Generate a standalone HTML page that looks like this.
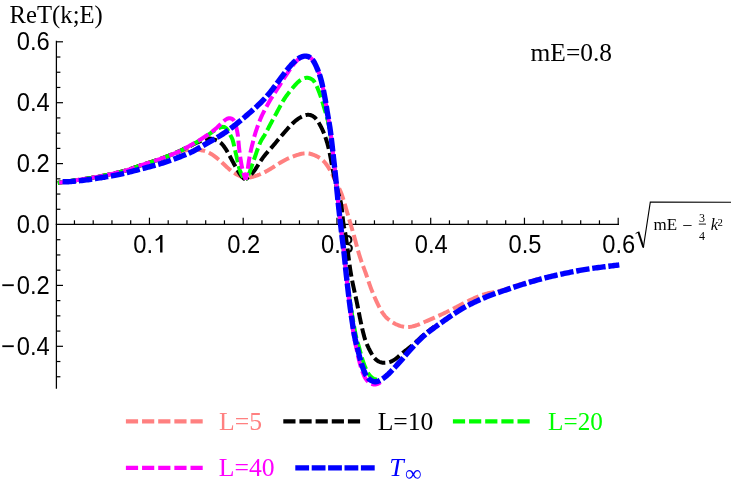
<!DOCTYPE html>
<html><head><meta charset="utf-8"><title>ReT(k;E)</title>
<style>
html,body{margin:0;padding:0;background:#fff;}
body{width:731px;height:495px;overflow:hidden;font-family:"Liberation Sans",sans-serif;}
svg{display:block;will-change:transform;}
</style></head><body>
<svg width="731" height="495" viewBox="0 0 731 495">
<rect width="731" height="495" fill="#fff"/>
<g stroke="#000" stroke-width="1.25" fill="none">
<line x1="55.75" y1="224.3" x2="619.0" y2="224.3"/>
<line x1="56.40" y1="40.8" x2="56.40" y2="388.8"/>
<line x1="74.45" y1="224.3" x2="74.45" y2="220.30" stroke-width="1.2"/>
<line x1="93.20" y1="224.3" x2="93.20" y2="220.30" stroke-width="1.2"/>
<line x1="111.95" y1="224.3" x2="111.95" y2="220.30" stroke-width="1.2"/>
<line x1="130.70" y1="224.3" x2="130.70" y2="220.30" stroke-width="1.2"/>
<line x1="149.45" y1="224.3" x2="149.45" y2="217.70" stroke-width="1.2"/>
<line x1="168.20" y1="224.3" x2="168.20" y2="220.30" stroke-width="1.2"/>
<line x1="186.95" y1="224.3" x2="186.95" y2="220.30" stroke-width="1.2"/>
<line x1="205.70" y1="224.3" x2="205.70" y2="220.30" stroke-width="1.2"/>
<line x1="224.45" y1="224.3" x2="224.45" y2="220.30" stroke-width="1.2"/>
<line x1="243.20" y1="224.3" x2="243.20" y2="217.70" stroke-width="1.2"/>
<line x1="261.95" y1="224.3" x2="261.95" y2="220.30" stroke-width="1.2"/>
<line x1="280.70" y1="224.3" x2="280.70" y2="220.30" stroke-width="1.2"/>
<line x1="299.45" y1="224.3" x2="299.45" y2="220.30" stroke-width="1.2"/>
<line x1="318.20" y1="224.3" x2="318.20" y2="220.30" stroke-width="1.2"/>
<line x1="336.95" y1="224.3" x2="336.95" y2="217.70" stroke-width="1.2"/>
<line x1="355.70" y1="224.3" x2="355.70" y2="220.30" stroke-width="1.2"/>
<line x1="374.45" y1="224.3" x2="374.45" y2="220.30" stroke-width="1.2"/>
<line x1="393.20" y1="224.3" x2="393.20" y2="220.30" stroke-width="1.2"/>
<line x1="411.95" y1="224.3" x2="411.95" y2="220.30" stroke-width="1.2"/>
<line x1="430.70" y1="224.3" x2="430.70" y2="217.70" stroke-width="1.2"/>
<line x1="449.45" y1="224.3" x2="449.45" y2="220.30" stroke-width="1.2"/>
<line x1="468.20" y1="224.3" x2="468.20" y2="220.30" stroke-width="1.2"/>
<line x1="486.95" y1="224.3" x2="486.95" y2="220.30" stroke-width="1.2"/>
<line x1="505.70" y1="224.3" x2="505.70" y2="220.30" stroke-width="1.2"/>
<line x1="524.45" y1="224.3" x2="524.45" y2="217.70" stroke-width="1.2"/>
<line x1="543.20" y1="224.3" x2="543.20" y2="220.30" stroke-width="1.2"/>
<line x1="561.95" y1="224.3" x2="561.95" y2="220.30" stroke-width="1.2"/>
<line x1="580.70" y1="224.3" x2="580.70" y2="220.30" stroke-width="1.2"/>
<line x1="599.45" y1="224.3" x2="599.45" y2="220.30" stroke-width="1.2"/>
<line x1="618.20" y1="224.3" x2="618.20" y2="217.70" stroke-width="1.2"/>
<line x1="56.40" y1="376.75" x2="60.40" y2="376.75" stroke-width="1.2"/>
<line x1="56.40" y1="361.52" x2="60.40" y2="361.52" stroke-width="1.2"/>
<line x1="56.40" y1="346.30" x2="63.00" y2="346.30" stroke-width="1.2"/>
<line x1="56.40" y1="331.08" x2="60.40" y2="331.08" stroke-width="1.2"/>
<line x1="56.40" y1="315.85" x2="60.40" y2="315.85" stroke-width="1.2"/>
<line x1="56.40" y1="300.62" x2="60.40" y2="300.62" stroke-width="1.2"/>
<line x1="56.40" y1="285.40" x2="63.00" y2="285.40" stroke-width="1.2"/>
<line x1="56.40" y1="270.18" x2="60.40" y2="270.18" stroke-width="1.2"/>
<line x1="56.40" y1="254.95" x2="60.40" y2="254.95" stroke-width="1.2"/>
<line x1="56.40" y1="239.72" x2="60.40" y2="239.72" stroke-width="1.2"/>
<line x1="56.40" y1="209.28" x2="60.40" y2="209.28" stroke-width="1.2"/>
<line x1="56.40" y1="194.05" x2="60.40" y2="194.05" stroke-width="1.2"/>
<line x1="56.40" y1="178.82" x2="60.40" y2="178.82" stroke-width="1.2"/>
<line x1="56.40" y1="163.60" x2="63.00" y2="163.60" stroke-width="1.2"/>
<line x1="56.40" y1="148.38" x2="60.40" y2="148.38" stroke-width="1.2"/>
<line x1="56.40" y1="133.15" x2="60.40" y2="133.15" stroke-width="1.2"/>
<line x1="56.40" y1="117.92" x2="60.40" y2="117.92" stroke-width="1.2"/>
<line x1="56.40" y1="102.70" x2="63.00" y2="102.70" stroke-width="1.2"/>
<line x1="56.40" y1="87.47" x2="60.40" y2="87.47" stroke-width="1.2"/>
<line x1="56.40" y1="72.25" x2="60.40" y2="72.25" stroke-width="1.2"/>
<line x1="56.40" y1="57.02" x2="60.40" y2="57.02" stroke-width="1.2"/>
<line x1="56.40" y1="41.80" x2="63.00" y2="41.80" stroke-width="1.2"/>
</g>
<g font-family="'Liberation Sans', sans-serif" font-size="25.8px" fill="#000" transform="scale(0.92,1)">
<text x="144.78" y="252.6">0.</text>
<text x="265.00" y="252.6" text-anchor="middle">0.2</text>
<text x="366.90" y="252.6" text-anchor="middle">0.3</text>
<text x="468.80" y="252.6" text-anchor="middle">0.4</text>
<text x="570.71" y="252.6" text-anchor="middle">0.5</text>
<text x="672.61" y="252.6" text-anchor="middle">0.6</text>
<text x="54.02" y="50.50" text-anchor="end">0.6</text>
<text x="54.02" y="111.40" text-anchor="end">0.4</text>
<text x="54.02" y="172.30" text-anchor="end">0.2</text>
<text x="54.02" y="233.20" text-anchor="end">0.0</text>
<text x="0.98" y="294.10">−</text>
<text x="54.02" y="294.10" text-anchor="end">0.2</text>
<text x="0.98" y="355.00">−</text>
<text x="54.02" y="355.00" text-anchor="end">0.4</text>
</g>
<path d="M160.45,234.9 L162.5,234.9 L162.5,252.55 L160.1,252.55 L160.1,238.6 Q158.3,240.1 156.0,241.1 L155.35,239.6 Q158.7,237.9 160.45,234.9 Z" fill="#000"/>
<path d="M57.80,183.00 L58.80,182.83 L59.81,182.66 L60.83,182.49 L61.85,182.32 L62.89,182.15 L63.95,181.97 L65.04,181.80 L66.15,181.63 L67.29,181.45 L68.47,181.27 L69.69,181.10 L70.93,180.92 L72.21,180.74 L73.51,180.55 L74.84,180.37 L76.18,180.18 L77.53,179.99 L78.89,179.80 L80.26,179.61 L81.62,179.41 L82.99,179.21 L84.34,179.01 L85.68,178.80 L87.02,178.60 L88.34,178.39 L89.66,178.17 L90.97,177.95 L92.28,177.73 L93.59,177.50 L94.91,177.27 L96.22,177.03 L97.54,176.78 L98.87,176.53 L100.20,176.28 L101.55,176.01 L102.90,175.75 L104.26,175.47 L105.62,175.19 L106.97,174.91 L108.32,174.63 L109.66,174.35 L110.98,174.06 L112.28,173.78 L113.56,173.50 L114.81,173.22 L116.03,172.95 L117.22,172.68 L118.37,172.42 L119.50,172.16 L120.59,171.89 L121.67,171.63 L122.74,171.36 L123.79,171.08 L124.84,170.79 L125.89,170.49 L126.95,170.17 L128.02,169.83 L129.11,169.47 L130.20,169.10 L131.31,168.71 L132.43,168.31 L133.56,167.91 L134.69,167.50 L135.83,167.08 L136.97,166.67 L138.11,166.26 L139.25,165.86 L140.38,165.47 L141.51,165.09 L142.64,164.72 L143.78,164.35 L144.91,163.99 L146.06,163.62 L147.21,163.26 L148.37,162.89 L149.55,162.52 L150.75,162.13 L151.97,161.74 L153.21,161.33 L154.47,160.91 L155.75,160.47 L157.04,160.02 L158.33,159.57 L159.62,159.11 L160.90,158.65 L162.16,158.19 L163.40,157.74 L164.61,157.29 L165.79,156.86 L166.92,156.43 L167.99,156.03 L169.02,155.64 L170.00,155.26 L170.94,154.90 L171.85,154.56 L172.74,154.22 L173.61,153.89 L174.47,153.56 L175.34,153.24 L176.21,152.92 L177.09,152.61 L177.99,152.29 L178.90,151.99 L179.81,151.69 L180.73,151.41 L181.66,151.15 L182.60,150.91 L183.53,150.70 L184.47,150.51 L185.41,150.35 L186.35,150.22 L187.28,150.11 L188.22,150.02 L189.15,149.95 L190.08,149.89 L191.01,149.84 L191.94,149.80 L192.86,149.77 L193.78,149.74 L194.71,149.72 L195.63,149.71 L196.56,149.73 L197.50,149.77 L198.45,149.83 L199.40,149.93 L200.37,150.05 L201.36,150.22 L202.36,150.42 L203.37,150.66 L204.38,150.95 L205.41,151.28 L206.44,151.65 L207.48,152.07 L208.52,152.54 L209.56,153.06 L210.60,153.64 L211.64,154.26 L212.67,154.93 L213.70,155.63 L214.72,156.37 L215.72,157.13 L216.71,157.91 L217.69,158.71 L218.64,159.52 L219.57,160.33 L220.48,161.14 L221.36,161.94 L222.22,162.73 L223.05,163.50 L223.86,164.26 L224.65,165.01 L225.43,165.74 L226.20,166.46 L226.96,167.17 L227.72,167.86 L228.48,168.54 L229.25,169.20 L230.02,169.84 L230.80,170.48 L231.60,171.09 L232.41,171.69 L233.24,172.28 L234.09,172.84 L234.97,173.40 L235.87,173.94 L236.81,174.46 L237.78,174.97 L238.76,175.45 L239.74,175.92 L240.70,176.35 L241.63,176.74 L242.50,177.09 L243.29,177.40 L244.00,177.66 L244.60,177.86 L245.10,178.01 L245.56,178.10 L246.02,178.13 L246.55,178.11 L247.19,178.04 L247.94,177.92 L248.80,177.75 L249.74,177.54 L250.75,177.30 L251.82,177.02 L252.91,176.72 L254.03,176.39 L255.15,176.04 L256.26,175.68 L257.35,175.31 L258.42,174.92 L259.49,174.51 L260.54,174.08 L261.58,173.64 L262.62,173.17 L263.66,172.68 L264.70,172.16 L265.74,171.62 L266.79,171.05 L267.85,170.45 L268.91,169.83 L269.97,169.19 L271.04,168.54 L272.10,167.87 L273.15,167.20 L274.20,166.53 L275.23,165.87 L276.25,165.21 L277.24,164.57 L278.22,163.95 L279.18,163.35 L280.11,162.77 L281.03,162.22 L281.94,161.68 L282.85,161.16 L283.75,160.66 L284.66,160.17 L285.58,159.70 L286.51,159.23 L287.45,158.78 L288.42,158.34 L289.41,157.90 L290.41,157.48 L291.42,157.07 L292.44,156.67 L293.47,156.28 L294.50,155.91 L295.52,155.55 L296.55,155.21 L297.57,154.88 L298.58,154.58 L299.58,154.30 L300.58,154.04 L301.56,153.82 L302.54,153.63 L303.50,153.48 L304.46,153.37 L305.41,153.31 L306.35,153.30 L307.28,153.35 L308.20,153.44 L309.12,153.58 L310.03,153.77 L310.93,154.00 L311.84,154.26 L312.75,154.57 L313.65,154.90 L314.56,155.27 L315.47,155.67 L316.38,156.09 L317.27,156.54 L318.16,157.02 L319.02,157.53 L319.86,158.06 L320.68,158.62 L321.46,159.21 L322.21,159.82 L322.92,160.46 L323.60,161.12 L324.25,161.80 L324.87,162.51 L325.48,163.24 L326.06,164.00 L326.63,164.78 L327.19,165.59 L327.74,166.41 L328.28,167.26 L328.81,168.12 L329.33,168.99 L329.83,169.86 L330.32,170.73 L330.79,171.59 L331.25,172.44 L331.68,173.27 L332.10,174.07 L332.50,174.87 L332.88,175.65 L333.27,176.44 L333.65,177.23 L334.04,178.04 L334.45,178.87 L334.87,179.73 L335.31,180.63 L335.78,181.57 L336.26,182.53 L336.74,183.50 L337.23,184.48 L337.71,185.45 L338.18,186.40 L338.64,187.32 L339.07,188.21 L339.47,189.04 L339.83,189.83 L340.17,190.57 L340.49,191.29 L340.79,192.00 L341.07,192.72 L341.36,193.46 L341.64,194.24 L341.93,195.07 L342.23,195.95 L342.54,196.89 L342.85,197.88 L343.17,198.91 L343.50,199.99 L343.84,201.10 L344.19,202.26 L344.54,203.45 L344.90,204.66 L345.27,205.91 L345.64,207.17 L346.02,208.45 L346.40,209.73 L346.77,210.99 L347.13,212.24 L347.49,213.45 L347.83,214.63 L348.16,215.75 L348.47,216.82 L348.76,217.81 L349.02,218.73 L349.26,219.57 L349.49,220.35 L349.70,221.10 L349.91,221.84 L350.13,222.59 L350.35,223.36 L350.60,224.19 L350.86,225.08 L351.15,226.04 L351.45,227.06 L351.78,228.14 L352.11,229.28 L352.47,230.46 L352.83,231.70 L353.20,232.97 L353.58,234.28 L353.96,235.63 L354.35,237.01 L354.74,238.42 L355.12,239.85 L355.51,241.30 L355.90,242.76 L356.30,244.23 L356.70,245.71 L357.10,247.19 L357.50,248.68 L357.91,250.15 L358.32,251.62 L358.74,253.08 L359.17,254.52 L359.60,255.93 L360.04,257.33 L360.49,258.69 L360.94,260.03 L361.40,261.35 L361.86,262.65 L362.32,263.92 L362.79,265.19 L363.25,266.43 L363.71,267.67 L364.17,268.90 L364.62,270.12 L365.07,271.33 L365.51,272.54 L365.94,273.76 L366.36,274.97 L366.78,276.18 L367.19,277.39 L367.59,278.60 L367.99,279.80 L368.39,280.99 L368.79,282.18 L369.20,283.36 L369.60,284.53 L370.01,285.68 L370.42,286.83 L370.84,287.96 L371.26,289.09 L371.70,290.21 L372.14,291.32 L372.60,292.44 L373.06,293.57 L373.54,294.70 L374.03,295.85 L374.54,297.01 L375.06,298.20 L375.60,299.40 L376.16,300.63 L376.73,301.88 L377.32,303.14 L377.93,304.40 L378.54,305.66 L379.17,306.90 L379.81,308.13 L380.46,309.32 L381.12,310.48 L381.79,311.60 L382.46,312.66 L383.13,313.66 L383.81,314.60 L384.50,315.48 L385.19,316.29 L385.89,317.05 L386.60,317.77 L387.32,318.44 L388.06,319.08 L388.81,319.70 L389.57,320.29 L390.36,320.86 L391.16,321.42 L391.99,321.96 L392.83,322.48 L393.68,322.99 L394.56,323.47 L395.44,323.93 L396.34,324.37 L397.26,324.77 L398.18,325.15 L399.11,325.50 L400.05,325.82 L400.98,326.10 L401.91,326.35 L402.83,326.56 L403.73,326.74 L404.61,326.88 L405.46,326.99 L406.28,327.05 L407.08,327.08 L407.86,327.07 L408.62,327.03 L409.38,326.96 L410.14,326.86 L410.90,326.74 L411.68,326.59 L412.47,326.42 L413.27,326.22 L414.10,326.00 L414.94,325.76 L415.80,325.49 L416.68,325.20 L417.59,324.88 L418.51,324.53 L419.45,324.16 L420.42,323.77 L421.40,323.35 L422.41,322.92 L423.43,322.47 L424.48,322.01 L425.54,321.54 L426.62,321.06 L427.71,320.57 L428.83,320.08 L429.96,319.59 L431.10,319.09 L432.26,318.59 L433.43,318.08 L434.61,317.57 L435.81,317.04 L437.01,316.51 L438.22,315.98 L439.43,315.43 L440.66,314.87 L441.89,314.30 L443.12,313.72 L444.35,313.13 L445.59,312.53 L446.82,311.92 L448.06,311.30 L449.29,310.68 L450.52,310.05 L451.74,309.42 L452.97,308.80 L454.18,308.17 L455.39,307.54 L456.59,306.92 L457.78,306.30 L458.96,305.69 L460.13,305.09 L461.30,304.49 L462.46,303.89 L463.62,303.30 L464.78,302.72 L465.94,302.14 L467.11,301.56 L468.28,300.99 L469.45,300.42 L470.64,299.86 L471.83,299.30 L473.04,298.74 L474.26,298.19 L475.48,297.65 L476.72,297.12 L477.97,296.60 L479.22,296.10 L480.48,295.62 L481.74,295.16 L483.02,294.72 L484.29,294.30 L485.57,293.92 L486.86,293.56 L488.15,293.23 L489.44,292.93 L490.73,292.65 L492.02,292.38 L493.31,292.13 L494.60,291.88 L495.89,291.64 L497.17,291.39 L498.45,291.13 L499.73,290.86 L501.00,290.57 L502.26,290.26 L503.52,289.92 L504.78,289.56 L506.03,289.17 L507.28,288.77 L508.54,288.35 L509.80,287.92 L511.06,287.47 L512.34,287.02 L513.63,286.56 L514.93,286.10 L516.25,285.63 L517.58,285.17 L518.94,284.72 L520.31,284.27 L521.70,283.83 L523.09,283.39 L524.49,282.96 L525.89,282.54 L527.29,282.13 L528.68,281.72 L530.06,281.33 L531.42,280.95 L532.76,280.57 L534.08,280.21 L535.37,279.86 L536.62,279.53 L537.85,279.20 L539.05,278.89 L540.22,278.58 L541.37,278.28 L542.50,277.99 L543.62,277.71 L544.73,277.43 L545.82,277.15 L546.91,276.87 L548.00,276.60" fill="none" stroke="#ff8080" stroke-width="4.0" stroke-dasharray="12.2 4.04" stroke-dashoffset="6.34"/>
<path d="M57.80,183.00 L58.74,182.84 L59.67,182.68 L60.62,182.52 L61.57,182.36 L62.54,182.20 L63.52,182.04 L64.52,181.88 L65.55,181.72 L66.60,181.56 L67.67,181.39 L68.78,181.23 L69.92,181.06 L71.09,180.89 L72.28,180.73 L73.50,180.55 L74.73,180.38 L75.98,180.21 L77.24,180.03 L78.50,179.85 L79.78,179.67 L81.05,179.49 L82.32,179.31 L83.59,179.12 L84.85,178.93 L86.10,178.74 L87.34,178.55 L88.58,178.35 L89.80,178.15 L91.03,177.94 L92.25,177.73 L93.47,177.52 L94.70,177.30 L95.92,177.08 L97.15,176.86 L98.38,176.63 L99.62,176.39 L100.87,176.15 L102.13,175.90 L103.40,175.65 L104.66,175.39 L105.93,175.13 L107.19,174.87 L108.45,174.60 L109.69,174.34 L110.93,174.08 L112.14,173.81 L113.34,173.55 L114.51,173.29 L115.66,173.03 L116.78,172.78 L117.87,172.53 L118.93,172.29 L119.96,172.04 L120.98,171.80 L121.98,171.55 L122.97,171.29 L123.95,171.03 L124.93,170.76 L125.91,170.48 L126.90,170.18 L127.89,169.87 L128.90,169.54 L129.92,169.20 L130.95,168.84 L131.99,168.48 L133.03,168.10 L134.08,167.72 L135.14,167.34 L136.20,166.95 L137.27,166.57 L138.33,166.18 L139.40,165.81 L140.47,165.44 L141.53,165.08 L142.60,164.73 L143.66,164.38 L144.73,164.03 L145.81,163.69 L146.88,163.35 L147.97,163.01 L149.06,162.66 L150.16,162.31 L151.27,161.96 L152.39,161.60 L153.52,161.23 L154.66,160.85 L155.82,160.47 L156.98,160.07 L158.14,159.67 L159.31,159.26 L160.48,158.85 L161.64,158.43 L162.80,158.01 L163.96,157.58 L165.11,157.15 L166.24,156.71 L167.36,156.27 L168.47,155.83 L169.56,155.39 L170.64,154.94 L171.70,154.50 L172.75,154.05 L173.79,153.60 L174.81,153.15 L175.83,152.70 L176.83,152.25 L177.83,151.80 L178.81,151.35 L179.79,150.90 L180.77,150.44 L181.73,149.99 L182.69,149.54 L183.64,149.09 L184.58,148.64 L185.51,148.19 L186.43,147.75 L187.34,147.31 L188.24,146.87 L189.12,146.43 L190.00,146.00 L190.86,145.58 L191.71,145.16 L192.55,144.74 L193.38,144.33 L194.20,143.94 L195.02,143.54 L195.84,143.16 L196.65,142.79 L197.47,142.43 L198.29,142.08 L199.10,141.74 L199.92,141.42 L200.74,141.10 L201.54,140.80 L202.34,140.51 L203.12,140.24 L203.88,139.97 L204.63,139.72 L205.35,139.48 L206.06,139.26 L206.74,139.06 L207.42,138.89 L208.09,138.75 L208.76,138.66 L209.43,138.60 L210.12,138.60 L210.82,138.66 L211.53,138.76 L212.25,138.91 L212.98,139.10 L213.71,139.31 L214.44,139.56 L215.16,139.83 L215.88,140.11 L216.58,140.41 L217.28,140.73 L217.97,141.07 L218.65,141.44 L219.31,141.85 L219.96,142.29 L220.61,142.78 L221.23,143.32 L221.85,143.91 L222.45,144.55 L223.03,145.23 L223.61,145.96 L224.18,146.72 L224.74,147.51 L225.28,148.33 L225.82,149.17 L226.35,150.02 L226.88,150.90 L227.40,151.78 L227.91,152.68 L228.42,153.58 L228.92,154.49 L229.42,155.40 L229.92,156.32 L230.41,157.25 L230.91,158.18 L231.40,159.10 L231.90,160.03 L232.39,160.96 L232.89,161.89 L233.39,162.81 L233.89,163.74 L234.40,164.66 L234.91,165.57 L235.42,166.48 L235.93,167.39 L236.45,168.29 L236.97,169.19 L237.49,170.08 L238.02,170.97 L238.56,171.85 L239.09,172.71 L239.63,173.54 L240.16,174.34 L240.69,175.10 L241.22,175.81 L241.74,176.46 L242.25,177.05 L242.76,177.56 L243.25,177.99 L243.73,178.36 L244.20,178.67 L244.67,178.93 L245.14,179.17 L245.60,179.40" fill="none" stroke="#000000" stroke-width="4.0" stroke-dasharray="12.2 4.04" stroke-dashoffset="8.00"/>
<path d="M245.60,179.40 L246.32,178.81 L247.03,178.21 L247.74,177.61 L248.45,177.00 L249.14,176.39 L249.82,175.77 L250.48,175.14 L251.13,174.50 L251.75,173.85 L252.35,173.18 L252.94,172.49 L253.50,171.79 L254.06,171.06 L254.60,170.32 L255.14,169.56 L255.67,168.77 L256.21,167.96 L256.74,167.13 L257.29,166.27 L257.84,165.39 L258.40,164.49 L258.98,163.58 L259.57,162.65 L260.18,161.70 L260.80,160.75 L261.45,159.79 L262.12,158.83 L262.81,157.86 L263.53,156.90 L264.27,155.94 L265.03,154.99 L265.81,154.04 L266.60,153.11 L267.40,152.19 L268.19,151.28 L268.97,150.40 L269.75,149.53 L270.50,148.68 L271.24,147.86 L271.94,147.07 L272.61,146.30 L273.26,145.56 L273.88,144.83 L274.48,144.12 L275.07,143.42 L275.66,142.72 L276.25,142.02 L276.84,141.31 L277.45,140.58 L278.08,139.83 L278.72,139.06 L279.38,138.28 L280.06,137.48 L280.76,136.66 L281.47,135.82 L282.19,134.98 L282.92,134.12 L283.67,133.25 L284.42,132.37 L285.18,131.49 L285.95,130.60 L286.73,129.70 L287.51,128.81 L288.30,127.93 L289.09,127.05 L289.89,126.19 L290.69,125.34 L291.49,124.52 L292.29,123.71 L293.10,122.94 L293.91,122.19 L294.72,121.48 L295.53,120.80 L296.34,120.15 L297.15,119.54 L297.97,118.96 L298.78,118.41 L299.59,117.90 L300.40,117.41 L301.21,116.96 L302.02,116.54 L302.83,116.15 L303.64,115.79 L304.45,115.49 L305.26,115.23 L306.07,115.03 L306.88,114.88 L307.69,114.81 L308.50,114.81 L309.30,114.88 L310.11,115.03 L310.90,115.24 L311.68,115.53 L312.45,115.89 L313.19,116.32 L313.90,116.81 L314.58,117.36 L315.23,117.97 L315.85,118.63 L316.44,119.34 L317.01,120.08 L317.55,120.86 L318.07,121.66 L318.57,122.48 L319.06,123.30 L319.53,124.13 L319.99,124.95 L320.44,125.78 L320.88,126.61 L321.32,127.44 L321.74,128.28 L322.15,129.13 L322.55,130.00 L322.95,130.88 L323.33,131.78 L323.71,132.70 L324.08,133.63 L324.44,134.57 L324.79,135.52 L325.13,136.47 L325.46,137.42 L325.77,138.35 L326.08,139.27 L326.36,140.17 L326.64,141.05 L326.90,141.90 L327.15,142.73 L327.39,143.56 L327.62,144.38 L327.84,145.21 L328.07,146.05 L328.28,146.91 L328.50,147.81 L328.72,148.73 L328.94,149.69 L329.16,150.67 L329.38,151.67 L329.59,152.69 L329.80,153.72 L330.01,154.76 L330.22,155.80 L330.42,156.83 L330.61,157.86 L330.80,158.88 L330.98,159.88 L331.16,160.88 L331.33,161.88 L331.51,162.88 L331.68,163.88 L331.86,164.88 L332.04,165.89 L332.23,166.91 L332.43,167.94 L332.63,168.99 L332.84,170.06 L333.06,171.14 L333.29,172.23 L333.53,173.33 L333.77,174.45 L334.01,175.57 L334.26,176.71 L334.52,177.85 L334.78,179.01 L335.04,180.17 L335.30,181.34 L335.57,182.51 L335.84,183.68 L336.12,184.86 L336.40,186.02 L336.68,187.18 L336.96,188.33 L337.25,189.46 L337.54,190.58 L337.83,191.67 L338.13,192.75 L338.43,193.79 L338.73,194.82 L339.03,195.84 L339.33,196.84 L339.62,197.85 L339.91,198.86 L340.19,199.88 L340.45,200.93 L340.71,202.00 L340.95,203.11 L341.17,204.26 L341.37,205.45 L341.55,206.67 L341.72,207.92 L341.88,209.18 L342.02,210.45 L342.16,211.72 L342.28,212.98 L342.40,214.22 L342.52,215.42 L342.63,216.59 L342.74,217.71 L342.85,218.78 L342.96,219.79 L343.08,220.74 L343.19,221.66 L343.31,222.54 L343.44,223.39 L343.57,224.23 L343.71,225.05 L343.86,225.87 L344.01,226.70 L344.18,227.53 L344.35,228.38 L344.52,229.26 L344.71,230.17 L344.89,231.12 L345.08,232.11 L345.28,233.15 L345.47,234.25 L345.67,235.42 L345.87,236.66 L346.06,237.95 L346.26,239.30 L346.46,240.69 L346.66,242.12 L346.85,243.58 L347.05,245.07 L347.24,246.57 L347.43,248.08 L347.63,249.60 L347.81,251.11 L348.00,252.61 L348.19,254.09 L348.37,255.54 L348.55,256.96 L348.72,258.36 L348.90,259.73 L349.08,261.08 L349.25,262.40 L349.43,263.70 L349.60,264.99 L349.78,266.26 L349.96,267.51 L350.14,268.75 L350.33,269.99 L350.52,271.21 L350.72,272.42 L350.92,273.63 L351.12,274.84 L351.33,276.04 L351.55,277.24 L351.77,278.45 L352.00,279.65 L352.23,280.85 L352.47,282.06 L352.71,283.27 L352.96,284.49 L353.22,285.71 L353.48,286.94 L353.75,288.18 L354.02,289.43 L354.29,290.68 L354.57,291.94 L354.85,293.19 L355.13,294.46 L355.41,295.72 L355.69,296.98 L355.96,298.24 L356.23,299.50 L356.50,300.76 L356.76,302.01 L357.02,303.26 L357.27,304.50 L357.52,305.75 L357.77,307.00 L358.02,308.26 L358.26,309.53 L358.51,310.81 L358.77,312.11 L359.02,313.42 L359.29,314.76 L359.56,316.13 L359.84,317.52 L360.13,318.94 L360.43,320.38 L360.74,321.85 L361.06,323.33 L361.38,324.81 L361.71,326.29 L362.04,327.75 L362.37,329.20 L362.71,330.61 L363.04,331.98 L363.37,333.30 L363.69,334.57 L364.01,335.78 L364.32,336.91 L364.62,337.97 L364.92,338.95 L365.21,339.87 L365.51,340.74 L365.81,341.57 L366.11,342.39 L366.43,343.19 L366.77,343.99 L367.12,344.81 L367.49,345.66 L367.89,346.53 L368.31,347.43 L368.74,348.34 L369.20,349.26 L369.67,350.19 L370.15,351.11 L370.65,352.04 L371.16,352.95 L371.67,353.85 L372.20,354.73 L372.74,355.59 L373.29,356.42 L373.85,357.21 L374.44,357.96 L375.05,358.67 L375.69,359.33 L376.35,359.94 L377.05,360.49 L377.78,360.98 L378.54,361.40 L379.33,361.77 L380.14,362.07 L380.96,362.32 L381.80,362.52 L382.65,362.67 L383.49,362.77 L384.34,362.82 L385.18,362.83 L386.01,362.79 L386.84,362.70 L387.67,362.57 L388.49,362.39 L389.31,362.16 L390.12,361.89 L390.93,361.56 L391.74,361.19 L392.54,360.77 L393.33,360.32 L394.10,359.84 L394.86,359.34 L395.60,358.82 L396.32,358.28 L397.02,357.74 L397.69,357.20 L398.34,356.66 L398.98,356.11 L399.61,355.55 L400.25,354.99 L400.90,354.42 L401.57,353.84 L402.28,353.24 L403.01,352.62 L403.80,351.99 L404.62,351.34 L405.47,350.67 L406.35,349.98 L407.26,349.28 L408.18,348.55 L409.12,347.81 L410.07,347.06 L411.03,346.28 L411.99,345.49 L412.94,344.68 L413.89,343.85 L414.82,343.02 L415.76,342.17 L416.68,341.31 L417.61,340.45 L418.52,339.59 L419.44,338.74 L420.35,337.89 L421.26,337.05 L422.17,336.23 L423.07,335.42 L423.98,334.63 L424.89,333.86 L425.80,333.12 L426.71,332.39 L427.62,331.68 L428.53,330.98 L429.44,330.30 L430.35,329.63 L431.26,328.96 L432.18,328.31 L433.09,327.65 L434.00,327.00" fill="none" stroke="#000000" stroke-width="4.0" stroke-dasharray="12.2 4.04" stroke-dashoffset="8.62"/>
<path d="M57.80,183.00 L58.73,182.84 L59.66,182.68 L60.60,182.53 L61.54,182.37 L62.50,182.21 L63.48,182.05 L64.47,181.89 L65.49,181.73 L66.52,181.57 L67.59,181.41 L68.69,181.24 L69.82,181.08 L70.97,180.91 L72.16,180.74 L73.36,180.57 L74.58,180.40 L75.82,180.23 L77.07,180.06 L78.32,179.88 L79.59,179.70 L80.85,179.52 L82.12,179.34 L83.38,179.15 L84.63,178.97 L85.87,178.78 L87.10,178.58 L88.33,178.39 L89.55,178.19 L90.76,177.99 L91.98,177.78 L93.19,177.57 L94.40,177.36 L95.62,177.14 L96.84,176.91 L98.06,176.69 L99.29,176.45 L100.53,176.21 L101.78,175.97 L103.03,175.72 L104.29,175.47 L105.54,175.21 L106.80,174.95 L108.05,174.69 L109.29,174.43 L110.51,174.16 L111.73,173.90 L112.92,173.64 L114.10,173.38 L115.24,173.13 L116.37,172.88 L117.46,172.63 L118.52,172.38 L119.56,172.14 L120.57,171.90 L121.57,171.65 L122.56,171.40 L123.54,171.15 L124.51,170.88 L125.48,170.60 L126.46,170.32 L127.44,170.01 L128.43,169.70 L129.44,169.36 L130.46,169.01 L131.48,168.65 L132.51,168.28 L133.56,167.91 L134.60,167.53 L135.65,167.15 L136.71,166.77 L137.77,166.38 L138.83,166.01 L139.89,165.64 L140.94,165.28 L142.00,164.92 L143.06,164.58 L144.12,164.23 L145.19,163.89 L146.25,163.56 L147.33,163.22 L148.41,162.88 L149.49,162.53 L150.59,162.18 L151.69,161.83 L152.80,161.47 L153.93,161.09 L155.06,160.71 L156.20,160.32 L157.35,159.92 L158.51,159.52 L159.66,159.11 L160.82,158.70 L161.97,158.28 L163.12,157.86 L164.27,157.43 L165.41,157.01 L166.54,156.58 L167.66,156.15 L168.77,155.73 L169.87,155.30 L170.95,154.88 L172.02,154.45 L173.07,154.02 L174.11,153.60 L175.13,153.17 L176.14,152.74 L177.13,152.31 L178.10,151.87 L179.06,151.44 L180.00,151.00 L180.93,150.56 L181.84,150.11 L182.73,149.66 L183.63,149.20 L184.52,148.74 L185.41,148.27 L186.31,147.79 L187.22,147.30 L188.14,146.80 L189.08,146.30 L190.04,145.78 L191.02,145.25 L192.03,144.71 L193.05,144.15 L194.09,143.59 L195.14,143.01 L196.20,142.42 L197.27,141.83 L198.33,141.22 L199.39,140.60 L200.45,139.97 L201.50,139.33 L202.54,138.69 L203.56,138.03 L204.57,137.36 L205.56,136.69 L206.53,136.02 L207.48,135.35 L208.41,134.69 L209.32,134.04 L210.22,133.40 L211.09,132.78 L211.94,132.19 L212.78,131.61 L213.59,131.07 L214.38,130.56 L215.15,130.08 L215.90,129.63 L216.63,129.22 L217.34,128.84 L218.03,128.49 L218.70,128.17 L219.35,127.87 L219.98,127.61 L220.59,127.37 L221.19,127.17 L221.77,127.01 L222.34,126.90 L222.90,126.85 L223.44,126.88 L223.99,126.98 L224.52,127.17 L225.05,127.43 L225.56,127.77 L226.07,128.19 L226.56,128.69 L227.05,129.26 L227.52,129.90 L227.97,130.60 L228.41,131.34 L228.83,132.11 L229.24,132.88 L229.63,133.65 L230.00,134.40 L230.35,135.11 L230.68,135.76 L230.99,136.35 L231.29,136.90 L231.56,137.43 L231.83,137.95 L232.08,138.49 L232.31,139.07 L232.54,139.70 L232.76,140.40 L232.98,141.14 L233.19,141.94 L233.40,142.78 L233.61,143.67 L233.82,144.58 L234.03,145.53 L234.25,146.51 L234.47,147.51 L234.70,148.52 L234.93,149.55 L235.17,150.59 L235.42,151.64 L235.67,152.70 L235.91,153.77 L236.16,154.84 L236.41,155.92 L236.66,156.99 L236.90,158.07 L237.14,159.14 L237.38,160.20 L237.61,161.26 L237.84,162.31 L238.07,163.35 L238.30,164.38 L238.54,165.40 L238.79,166.40 L239.04,167.39 L239.31,168.37 L239.60,169.33 L239.89,170.28 L240.21,171.21 L240.54,172.11 L240.89,172.99 L241.26,173.83 L241.63,174.63 L242.01,175.39 L242.39,176.09 L242.77,176.73 L243.16,177.30 L243.54,177.81 L243.92,178.25 L244.29,178.63 L244.66,178.98 L245.03,179.29 L245.40,179.60" fill="none" stroke="#00ff00" stroke-width="4.0" stroke-dasharray="12.2 4.04" stroke-dashoffset="7.16"/>
<path d="M245.40,179.60 L245.87,178.92 L246.33,178.25 L246.79,177.56 L247.24,176.87 L247.68,176.16 L248.10,175.44 L248.50,174.69 L248.89,173.93 L249.24,173.14 L249.58,172.33 L249.90,171.49 L250.21,170.63 L250.51,169.76 L250.80,168.86 L251.10,167.95 L251.40,167.02 L251.71,166.08 L252.02,165.13 L252.36,164.16 L252.70,163.18 L253.05,162.18 L253.41,161.17 L253.78,160.13 L254.16,159.07 L254.55,157.99 L254.94,156.88 L255.34,155.74 L255.75,154.58 L256.15,153.39 L256.57,152.19 L256.98,150.97 L257.41,149.76 L257.83,148.56 L258.26,147.37 L258.69,146.21 L259.12,145.09 L259.56,144.01 L260.00,142.99 L260.44,142.03 L260.89,141.13 L261.33,140.31 L261.78,139.53 L262.23,138.80 L262.68,138.09 L263.13,137.39 L263.58,136.69 L264.04,135.98 L264.50,135.24 L264.96,134.46 L265.42,133.64 L265.89,132.79 L266.37,131.90 L266.86,130.98 L267.35,130.04 L267.86,129.06 L268.38,128.06 L268.91,127.03 L269.47,125.98 L270.03,124.90 L270.62,123.81 L271.22,122.70 L271.83,121.57 L272.44,120.43 L273.07,119.28 L273.71,118.11 L274.35,116.94 L274.99,115.77 L275.63,114.59 L276.27,113.42 L276.91,112.24 L277.54,111.06 L278.17,109.90 L278.79,108.74 L279.40,107.60 L280.01,106.48 L280.60,105.39 L281.18,104.32 L281.75,103.29 L282.31,102.30 L282.85,101.36 L283.38,100.46 L283.89,99.61 L284.39,98.82 L284.87,98.08 L285.35,97.36 L285.84,96.67 L286.34,95.99 L286.85,95.30 L287.38,94.59 L287.95,93.85 L288.56,93.07 L289.20,92.24 L289.88,91.38 L290.58,90.49 L291.31,89.58 L292.05,88.67 L292.80,87.75 L293.56,86.86 L294.31,85.98 L295.05,85.14 L295.78,84.34 L296.49,83.59 L297.18,82.90 L297.85,82.26 L298.51,81.67 L299.17,81.12 L299.82,80.62 L300.48,80.15 L301.15,79.72 L301.83,79.33 L302.53,78.96 L303.24,78.64 L303.97,78.36 L304.71,78.12 L305.47,77.95 L306.23,77.84 L307.01,77.80 L307.79,77.83 L308.57,77.94 L309.35,78.13 L310.11,78.38 L310.85,78.71 L311.57,79.10 L312.25,79.55 L312.88,80.07 L313.47,80.65 L314.01,81.28 L314.51,81.96 L314.98,82.68 L315.41,83.44 L315.83,84.24 L316.23,85.06 L316.61,85.90 L316.99,86.76 L317.36,87.64 L317.72,88.52 L318.07,89.41 L318.42,90.29 L318.76,91.18 L319.09,92.05 L319.41,92.92 L319.71,93.76 L320.01,94.59 L320.30,95.40 L320.58,96.20 L320.85,96.98 L321.12,97.77 L321.38,98.56 L321.64,99.35 L321.89,100.15 L322.15,100.97 L322.40,101.81 L322.65,102.66 L322.90,103.52 L323.15,104.39 L323.40,105.27 L323.66,106.15 L323.91,107.03 L324.17,107.90 L324.43,108.77 L324.69,109.64 L324.96,110.51 L325.23,111.38 L325.50,112.25 L325.76,113.14 L326.03,114.05 L326.30,114.97 L326.57,115.91 L326.84,116.88 L327.11,117.87 L327.38,118.89 L327.64,119.94 L327.90,121.01 L328.16,122.12 L328.41,123.26 L328.66,124.42 L328.91,125.63 L329.14,126.86 L329.37,128.13 L329.59,129.44 L329.81,130.77 L330.01,132.13 L330.21,133.51 L330.41,134.90 L330.60,136.29 L330.78,137.68 L330.95,139.07 L331.12,140.44 L331.29,141.80 L331.45,143.12 L331.61,144.42 L331.76,145.68 L331.91,146.89 L332.05,148.06 L332.20,149.20 L332.34,150.32 L332.48,151.42 L332.62,152.51 L332.76,153.60 L332.91,154.70 L333.05,155.82 L333.20,156.97 L333.35,158.14 L333.51,159.36 L333.67,160.62 L333.84,161.91 L334.01,163.24 L334.18,164.59 L334.35,165.97 L334.52,167.36 L334.69,168.77 L334.86,170.19 L335.03,171.61 L335.19,173.03 L335.35,174.45 L335.51,175.86 L335.66,177.25 L335.81,178.64 L335.95,180.01 L336.09,181.37 L336.22,182.72 L336.35,184.07 L336.48,185.42 L336.61,186.78 L336.74,188.14 L336.87,189.50 L337.00,190.88 L337.14,192.27 L337.27,193.68 L337.41,195.10 L337.55,196.55 L337.70,198.01 L337.85,199.49 L338.00,200.96 L338.15,202.43 L338.31,203.90 L338.46,205.34 L338.61,206.77 L338.76,208.16 L338.91,209.52 L339.06,210.85 L339.20,212.12 L339.34,213.34 L339.47,214.50 L339.60,215.61 L339.72,216.67 L339.84,217.69 L339.96,218.69 L340.07,219.68 L340.19,220.66 L340.31,221.65 L340.42,222.66 L340.54,223.69 L340.66,224.76 L340.79,225.87 L340.92,227.02 L341.05,228.20 L341.18,229.40 L341.32,230.63 L341.46,231.86 L341.60,233.11 L341.74,234.36 L341.88,235.60 L342.03,236.84 L342.17,238.07 L342.32,239.28 L342.47,240.48 L342.62,241.66 L342.77,242.83 L342.92,243.99 L343.07,245.15 L343.22,246.30 L343.37,247.46 L343.51,248.62 L343.66,249.79 L343.81,250.97 L343.96,252.17 L344.10,253.38 L344.25,254.61 L344.39,255.85 L344.54,257.11 L344.68,258.39 L344.83,259.68 L344.98,261.00 L345.13,262.33 L345.28,263.68 L345.43,265.05 L345.59,266.44 L345.75,267.86 L345.91,269.29 L346.08,270.74 L346.25,272.21 L346.43,273.68 L346.60,275.16 L346.78,276.64 L346.95,278.12 L347.13,279.59 L347.31,281.04 L347.48,282.48 L347.65,283.89 L347.83,285.28 L347.99,286.64 L348.16,287.96 L348.32,289.25 L348.48,290.50 L348.63,291.71 L348.78,292.90 L348.93,294.07 L349.09,295.22 L349.24,296.36 L349.40,297.49 L349.55,298.62 L349.72,299.76 L349.88,300.91 L350.06,302.07 L350.23,303.25 L350.42,304.44 L350.61,305.66 L350.81,306.90 L351.01,308.16 L351.22,309.44 L351.44,310.75 L351.66,312.08 L351.88,313.44 L352.11,314.82 L352.35,316.23 L352.59,317.67 L352.84,319.14 L353.10,320.64 L353.35,322.15 L353.61,323.67 L353.88,325.19 L354.15,326.70 L354.41,328.20 L354.68,329.68 L354.96,331.12 L355.23,332.53 L355.50,333.89 L355.77,335.20 L356.04,336.44 L356.31,337.62 L356.57,338.71 L356.84,339.74 L357.10,340.70 L357.36,341.63 L357.62,342.52 L357.89,343.40 L358.15,344.28 L358.42,345.17 L358.70,346.09 L358.97,347.05 L359.25,348.07 L359.54,349.12 L359.84,350.21 L360.14,351.34 L360.44,352.48 L360.75,353.64 L361.07,354.81 L361.39,355.98 L361.73,357.14 L362.06,358.29 L362.41,359.42 L362.76,360.53 L363.12,361.61 L363.48,362.66 L363.85,363.69 L364.23,364.70 L364.61,365.68 L365.00,366.64 L365.40,367.58 L365.80,368.49 L366.20,369.38 L366.61,370.25 L367.02,371.10 L367.45,371.93 L367.89,372.73 L368.35,373.50 L368.84,374.24 L369.34,374.95 L369.88,375.62 L370.45,376.26 L371.06,376.85 L371.70,377.40 L372.35,377.90 L373.03,378.33 L373.72,378.70 L374.41,379.01 L375.10,379.23 L375.77,379.37 L376.44,379.42 L377.08,379.41 L377.70,379.34 L378.28,379.22 L378.82,379.06 L379.32,378.88 L379.77,378.68 L380.20,378.46 L380.60,378.23 L381.00,378.00" fill="none" stroke="#00ff00" stroke-width="4.0" stroke-dasharray="12.2 4.04" stroke-dashoffset="10.76"/>
<path d="M57.80,183.00 L58.79,182.83 L59.79,182.66 L60.80,182.49 L61.81,182.32 L62.85,182.15 L63.90,181.98 L64.97,181.81 L66.07,181.64 L67.20,181.47 L68.36,181.29 L69.56,181.11 L70.80,180.94 L72.06,180.76 L73.35,180.58 L74.65,180.39 L75.98,180.21 L77.32,180.02 L78.67,179.83 L80.02,179.64 L81.37,179.45 L82.73,179.25 L84.07,179.05 L85.40,178.85 L86.73,178.64 L88.04,178.43 L89.35,178.22 L90.65,178.01 L91.95,177.79 L93.25,177.56 L94.55,177.33 L95.85,177.10 L97.15,176.86 L98.47,176.61 L99.79,176.36 L101.12,176.10 L102.45,175.83 L103.80,175.57 L105.14,175.29 L106.49,175.01 L107.83,174.73 L109.16,174.45 L110.47,174.17 L111.77,173.89 L113.05,173.61 L114.30,173.34 L115.53,173.06 L116.72,172.80 L117.87,172.53 L119.00,172.27 L120.10,172.01 L121.18,171.75 L122.24,171.49 L123.29,171.21 L124.33,170.93 L125.37,170.64 L126.41,170.33 L127.47,170.01 L128.53,169.66 L129.61,169.30 L130.70,168.93 L131.80,168.54 L132.91,168.14 L134.02,167.74 L135.15,167.33 L136.28,166.92 L137.41,166.51 L138.54,166.11 L139.68,165.71 L140.81,165.32 L141.94,164.94 L143.08,164.57 L144.21,164.21 L145.35,163.84 L146.50,163.48 L147.65,163.12 L148.80,162.75 L149.97,162.38 L151.14,162.00 L152.33,161.62 L153.53,161.22 L154.74,160.82 L155.96,160.40 L157.19,159.98 L158.43,159.54 L159.66,159.11 L160.90,158.66 L162.14,158.21 L163.37,157.76 L164.60,157.31 L165.81,156.85 L167.02,156.40 L168.21,155.94 L169.39,155.49 L170.56,155.04 L171.70,154.59 L172.83,154.13 L173.95,153.68 L175.04,153.22 L176.12,152.76 L177.19,152.30 L178.23,151.83 L179.25,151.36 L180.26,150.88 L181.24,150.39 L182.22,149.89 L183.18,149.39 L184.13,148.88 L185.09,148.36 L186.04,147.83 L187.01,147.29 L187.98,146.74 L188.97,146.18 L189.98,145.61 L191.01,145.03 L192.06,144.44 L193.13,143.84 L194.22,143.22 L195.32,142.60 L196.44,141.96 L197.56,141.30 L198.70,140.63 L199.84,139.95 L200.99,139.25 L202.15,138.53 L203.30,137.80 L204.45,137.05 L205.60,136.29 L206.74,135.51 L207.88,134.73 L209.00,133.93 L210.10,133.12 L211.19,132.31 L212.26,131.49 L213.30,130.66 L214.32,129.84 L215.30,129.01 L216.26,128.19 L217.18,127.37 L218.07,126.55 L218.92,125.75 L219.75,124.96 L220.54,124.19 L221.31,123.44 L222.05,122.73 L222.77,122.05 L223.47,121.41 L224.15,120.81 L224.81,120.26 L225.46,119.77 L226.11,119.34 L226.75,118.97 L227.40,118.67 L228.06,118.45 L228.74,118.32 L229.44,118.27 L230.15,118.32 L230.87,118.45 L231.56,118.68 L232.23,119.00 L232.84,119.40 L233.40,119.90 L233.89,120.49 L234.32,121.16 L234.70,121.90 L235.02,122.69 L235.32,123.53 L235.58,124.41 L235.83,125.32 L236.06,126.24 L236.29,127.18 L236.51,128.12 L236.73,129.08 L236.93,130.04 L237.13,131.02 L237.32,132.00 L237.49,133.00 L237.65,134.00 L237.80,135.02 L237.94,136.05 L238.06,137.10 L238.17,138.15 L238.28,139.22 L238.38,140.30 L238.48,141.39 L238.57,142.50 L238.67,143.62 L238.77,144.76 L238.88,145.91 L239.00,147.08 L239.12,148.26 L239.25,149.45 L239.39,150.64 L239.54,151.85 L239.69,153.05 L239.85,154.25 L240.02,155.46 L240.19,156.65 L240.36,157.84 L240.54,159.01 L240.72,160.17 L240.91,161.32 L241.10,162.45 L241.29,163.57 L241.50,164.67 L241.71,165.76 L241.92,166.83 L242.15,167.89 L242.39,168.93 L242.64,169.95 L242.90,170.97 L243.17,171.96 L243.45,172.95 L243.74,173.92 L244.04,174.88 L244.34,175.83 L244.65,176.78 L244.97,177.72 L245.28,178.66 L245.60,179.60" fill="none" stroke="#ff00ff" stroke-width="4.0" stroke-dasharray="12.2 4.04" stroke-dashoffset="14.84"/>
<path d="M245.60,179.60 L245.78,179.01 L245.97,178.40 L246.15,177.77 L246.33,177.11 L246.51,176.39 L246.68,175.60 L246.85,174.74 L247.02,173.81 L247.18,172.81 L247.34,171.76 L247.51,170.67 L247.67,169.53 L247.83,168.36 L248.00,167.18 L248.16,165.97 L248.33,164.76 L248.51,163.55 L248.69,162.34 L248.87,161.13 L249.06,159.92 L249.26,158.71 L249.47,157.49 L249.69,156.27 L249.92,155.05 L250.16,153.82 L250.41,152.59 L250.68,151.35 L250.95,150.11 L251.24,148.88 L251.53,147.66 L251.82,146.47 L252.11,145.31 L252.39,144.20 L252.66,143.14 L252.91,142.15 L253.14,141.24 L253.35,140.41 L253.53,139.66 L253.70,138.97 L253.87,138.29 L254.04,137.60 L254.24,136.87 L254.47,136.06 L254.74,135.14 L255.05,134.10 L255.41,132.95 L255.81,131.72 L256.23,130.42 L256.69,129.07 L257.16,127.68 L257.65,126.27 L258.16,124.85 L258.67,123.45 L259.19,122.08 L259.70,120.75 L260.21,119.48 L260.71,118.29 L261.20,117.15 L261.68,116.06 L262.17,115.02 L262.65,114.00 L263.13,113.02 L263.62,112.05 L264.11,111.09 L264.61,110.13 L265.12,109.16 L265.65,108.18 L266.18,107.19 L266.72,106.19 L267.27,105.18 L267.82,104.18 L268.39,103.17 L268.96,102.17 L269.54,101.18 L270.12,100.19 L270.71,99.22 L271.30,98.27 L271.90,97.33 L272.50,96.39 L273.11,95.46 L273.72,94.53 L274.33,93.60 L274.95,92.66 L275.58,91.71 L276.21,90.75 L276.85,89.76 L277.50,88.76 L278.15,87.74 L278.80,86.71 L279.46,85.66 L280.12,84.61 L280.78,83.54 L281.45,82.48 L282.12,81.42 L282.78,80.36 L283.45,79.30 L284.12,78.26 L284.79,77.22 L285.45,76.20 L286.12,75.18 L286.78,74.17 L287.45,73.18 L288.12,72.18 L288.78,71.20 L289.46,70.22 L290.13,69.24 L290.81,68.27 L291.49,67.31 L292.17,66.35 L292.87,65.40 L293.57,64.48 L294.28,63.57 L295.01,62.70 L295.75,61.85 L296.51,61.05 L297.29,60.29 L298.09,59.58 L298.91,58.92 L299.75,58.32 L300.61,57.79 L301.49,57.33 L302.37,56.95 L303.26,56.65 L304.15,56.44 L305.04,56.32 L305.93,56.31 L306.80,56.39 L307.66,56.57 L308.49,56.84 L309.30,57.20 L310.08,57.63 L310.82,58.14 L311.51,58.73 L312.16,59.37 L312.76,60.08 L313.32,60.83 L313.84,61.64 L314.34,62.49 L314.81,63.37 L315.26,64.29 L315.70,65.23 L316.14,66.19 L316.57,67.16 L317.00,68.15 L317.42,69.15 L317.84,70.16 L318.25,71.19 L318.65,72.23 L319.04,73.28 L319.41,74.34 L319.78,75.41 L320.12,76.48 L320.45,77.57 L320.76,78.67 L321.06,79.77 L321.35,80.88 L321.62,81.99 L321.89,83.10 L322.14,84.21 L322.39,85.32 L322.63,86.43 L322.87,87.53 L323.11,88.63 L323.34,89.73 L323.57,90.83 L323.79,91.93 L324.01,93.03 L324.23,94.13 L324.44,95.25 L324.65,96.37 L324.86,97.51 L325.06,98.66 L325.26,99.82 L325.46,101.00 L325.66,102.19 L325.85,103.39 L326.05,104.61 L326.24,105.84 L326.44,107.08 L326.64,108.33 L326.85,109.60 L327.06,110.88 L327.28,112.17 L327.50,113.46 L327.73,114.77 L327.96,116.09 L328.20,117.43 L328.43,118.77 L328.67,120.13 L328.90,121.50 L329.14,122.88 L329.37,124.28 L329.60,125.69 L329.82,127.11 L330.04,128.55 L330.25,130.00 L330.45,131.45 L330.65,132.92 L330.84,134.38 L331.02,135.84 L331.20,137.29 L331.37,138.72 L331.54,140.14 L331.70,141.53 L331.85,142.89 L332.00,144.23 L332.15,145.52 L332.29,146.77 L332.42,147.99 L332.55,149.18 L332.68,150.34 L332.81,151.49 L332.94,152.64 L333.07,153.79 L333.20,154.95 L333.33,156.14 L333.47,157.35 L333.61,158.61 L333.76,159.91 L333.91,161.24 L334.06,162.62 L334.22,164.02 L334.38,165.46 L334.54,166.91 L334.71,168.38 L334.87,169.85 L335.03,171.34 L335.19,172.83 L335.35,174.31 L335.50,175.78 L335.66,177.24 L335.80,178.68 L335.95,180.12 L336.09,181.54 L336.23,182.95 L336.37,184.37 L336.50,185.78 L336.64,187.20 L336.78,188.62 L336.92,190.06 L337.06,191.50 L337.20,192.97 L337.35,194.45 L337.50,195.95 L337.65,197.48 L337.80,199.01 L337.96,200.56 L338.12,202.10 L338.28,203.63 L338.44,205.15 L338.60,206.64 L338.76,208.10 L338.91,209.53 L339.07,210.91 L339.21,212.24 L339.36,213.51 L339.49,214.71 L339.62,215.86 L339.75,216.96 L339.88,218.02 L340.00,219.06 L340.12,220.09 L340.24,221.11 L340.36,222.16 L340.49,223.22 L340.61,224.33 L340.74,225.47 L340.88,226.66 L341.01,227.89 L341.15,229.14 L341.29,230.41 L341.44,231.71 L341.58,233.01 L341.73,234.31 L341.88,235.62 L342.03,236.92 L342.19,238.20 L342.34,239.46 L342.50,240.71 L342.66,241.94 L342.82,243.16 L342.98,244.37 L343.13,245.58 L343.29,246.79 L343.45,248.01 L343.60,249.23 L343.75,250.46 L343.90,251.70 L344.05,252.96 L344.19,254.24 L344.33,255.53 L344.47,256.85 L344.61,258.18 L344.75,259.53 L344.88,260.91 L345.02,262.30 L345.16,263.72 L345.30,265.15 L345.44,266.61 L345.58,268.10 L345.72,269.60 L345.87,271.12 L346.02,272.66 L346.17,274.21 L346.32,275.76 L346.47,277.31 L346.62,278.85 L346.77,280.38 L346.93,281.89 L347.08,283.38 L347.23,284.85 L347.38,286.28 L347.53,287.68 L347.68,289.03 L347.83,290.34 L347.97,291.62 L348.12,292.86 L348.26,294.08 L348.41,295.29 L348.56,296.48 L348.70,297.67 L348.85,298.85 L349.00,300.05 L349.14,301.25 L349.30,302.47 L349.45,303.71 L349.60,304.97 L349.76,306.26 L349.92,307.57 L350.09,308.90 L350.26,310.26 L350.44,311.65 L350.62,313.07 L350.80,314.51 L350.99,315.99 L351.19,317.50 L351.40,319.04 L351.61,320.61 L351.83,322.20 L352.05,323.80 L352.28,325.40 L352.51,327.00 L352.74,328.58 L352.97,330.13 L353.21,331.66 L353.44,333.13 L353.66,334.56 L353.89,335.92 L354.11,337.22 L354.32,338.43 L354.53,339.57 L354.74,340.63 L354.94,341.64 L355.14,342.62 L355.34,343.57 L355.55,344.52 L355.76,345.48 L355.98,346.47 L356.20,347.51 L356.44,348.60 L356.68,349.75 L356.93,350.94 L357.20,352.17 L357.47,353.42 L357.74,354.70 L358.03,356.00 L358.32,357.29 L358.62,358.59 L358.93,359.88 L359.24,361.14 L359.55,362.39 L359.87,363.60 L360.20,364.79 L360.53,365.96 L360.88,367.10 L361.23,368.23 L361.59,369.33 L361.96,370.41 L362.34,371.48 L362.74,372.52 L363.14,373.56 L363.56,374.57 L364.00,375.57 L364.46,376.53 L364.94,377.46 L365.45,378.36 L365.99,379.20 L366.56,380.00 L367.17,380.74 L367.81,381.41 L368.49,382.02 L369.21,382.56 L369.94,383.04 L370.69,383.45 L371.44,383.79 L372.19,384.07 L372.93,384.28 L373.65,384.43 L374.36,384.52 L375.04,384.54 L375.70,384.49 L376.35,384.38 L376.98,384.21 L377.59,383.97 L378.19,383.68 L378.78,383.35 L379.36,382.98 L379.93,382.60 L380.50,382.20" fill="none" stroke="#ff00ff" stroke-width="4.0" stroke-dasharray="12.2 4.04" stroke-dashoffset="5.07"/>
<path d="M62.00,181.80 L62.81,181.81 L63.64,181.81 L64.50,181.81 L65.41,181.80 L66.37,181.78 L67.41,181.74 L68.55,181.69 L69.78,181.62 L71.10,181.53 L72.49,181.42 L73.95,181.30 L75.47,181.16 L77.02,181.02 L78.59,180.86 L80.18,180.69 L81.77,180.51 L83.36,180.33 L84.91,180.14 L86.44,179.94 L87.95,179.74 L89.43,179.53 L90.90,179.32 L92.36,179.10 L93.81,178.88 L95.27,178.66 L96.73,178.42 L98.19,178.19 L99.68,177.95 L101.18,177.71 L102.70,177.46 L104.24,177.21 L105.77,176.95 L107.31,176.70 L108.83,176.44 L110.33,176.18 L111.81,175.92 L113.25,175.66 L114.64,175.40 L115.98,175.14 L117.27,174.89 L118.50,174.63 L119.69,174.37 L120.85,174.11 L122.01,173.84 L123.17,173.56 L124.36,173.27 L125.59,172.96 L126.88,172.63 L128.24,172.29 L129.68,171.92 L131.19,171.53 L132.75,171.13 L134.37,170.71 L136.03,170.28 L137.71,169.84 L139.42,169.40 L141.13,168.95 L142.83,168.51 L144.53,168.06 L146.20,167.62 L147.83,167.19 L149.42,166.77 L150.97,166.36 L152.49,165.95 L153.97,165.54 L155.43,165.14 L156.86,164.73 L158.27,164.33 L159.67,163.91 L161.06,163.49 L162.45,163.06 L163.83,162.62 L165.22,162.17 L166.60,161.70 L168.00,161.22 L169.39,160.73 L170.78,160.23 L172.17,159.73 L173.56,159.21 L174.95,158.69 L176.34,158.17 L177.72,157.65 L179.10,157.12 L180.48,156.60 L181.85,156.07 L183.21,155.53 L184.57,154.99 L185.92,154.44 L187.27,153.88 L188.61,153.30 L189.94,152.70 L191.26,152.09 L192.58,151.46 L193.89,150.80 L195.19,150.12 L196.48,149.42 L197.78,148.70 L199.07,147.97 L200.35,147.22 L201.64,146.46 L202.94,145.70 L204.24,144.93 L205.54,144.15 L206.86,143.38 L208.18,142.60 L209.51,141.84 L210.85,141.07 L212.20,140.30 L213.54,139.54 L214.88,138.77 L216.21,138.01 L217.53,137.24 L218.83,136.47 L220.12,135.69 L221.39,134.91 L222.63,134.13 L223.85,133.33 L225.05,132.53 L226.22,131.73 L227.39,130.91 L228.54,130.08 L229.68,129.24 L230.82,128.38 L231.96,127.51 L233.09,126.63 L234.24,125.73 L235.39,124.81 L236.55,123.88 L237.71,122.93 L238.89,121.96 L240.07,120.98 L241.25,119.99 L242.44,118.99 L243.64,117.97 L244.84,116.95 L246.05,115.91 L247.26,114.87 L248.47,113.82 L249.68,112.76 L250.89,111.70 L252.10,110.64 L253.30,109.58 L254.48,108.51 L255.66,107.45 L256.81,106.39 L257.94,105.34 L259.05,104.29 L260.13,103.25 L261.18,102.22 L262.20,101.19 L263.19,100.18 L264.16,99.16 L265.10,98.15 L266.03,97.13 L266.93,96.10 L267.83,95.07 L268.72,94.01 L269.61,92.94 L270.49,91.84 L271.38,90.71 L272.27,89.57 L273.16,88.39 L274.05,87.20 L274.95,86.00 L275.86,84.77 L276.76,83.54 L277.67,82.29 L278.59,81.04 L279.51,79.79 L280.43,78.53 L281.35,77.28 L282.28,76.03 L283.22,74.79 L284.15,73.56 L285.08,72.35 L286.00,71.16 L286.93,69.99 L287.84,68.86 L288.75,67.75 L289.65,66.69 L290.55,65.66 L291.42,64.68 L292.30,63.74 L293.16,62.85 L294.03,62.01 L294.90,61.21 L295.78,60.46 L296.67,59.75 L297.57,59.09 L298.50,58.47 L299.44,57.91 L300.41,57.40 L301.38,56.96 L302.36,56.60 L303.35,56.33 L304.33,56.16 L305.31,56.10 L306.27,56.15 L307.22,56.32 L308.15,56.61 L309.04,56.99 L309.90,57.47 L310.71,58.04 L311.47,58.68 L312.18,59.40 L312.83,60.19 L313.44,61.04 L314.01,61.93 L314.54,62.88 L315.05,63.86 L315.54,64.88 L316.02,65.92 L316.50,66.99 L316.97,68.07 L317.43,69.16 L317.89,70.28 L318.34,71.41 L318.78,72.55 L319.20,73.71 L319.60,74.88 L319.99,76.06 L320.35,77.26 L320.70,78.46 L321.03,79.67 L321.35,80.88 L321.65,82.10 L321.94,83.32 L322.22,84.54 L322.49,85.76 L322.75,86.98 L323.01,88.19 L323.27,89.39 L323.52,90.60 L323.77,91.80 L324.01,93.01 L324.25,94.23 L324.48,95.45 L324.71,96.69 L324.94,97.94 L325.16,99.21 L325.38,100.50 L325.59,101.80 L325.81,103.12 L326.02,104.45 L326.24,105.80 L326.46,107.16 L326.68,108.54 L326.91,109.94 L327.14,111.34 L327.38,112.76 L327.63,114.19 L327.88,115.64 L328.14,117.10 L328.40,118.57 L328.66,120.06 L328.92,121.57 L329.17,123.09 L329.43,124.62 L329.67,126.18 L329.92,127.74 L330.15,129.33 L330.38,130.93 L330.60,132.54 L330.81,134.14 L331.01,135.75 L331.20,137.34 L331.39,138.91 L331.57,140.46 L331.75,141.98 L331.92,143.47 L332.08,144.91 L332.23,146.31 L332.38,147.66 L332.53,148.96 L332.67,150.25 L332.82,151.51 L332.96,152.77 L333.10,154.04 L333.24,155.32 L333.39,156.63 L333.54,157.99 L333.70,159.39 L333.86,160.85 L334.03,162.35 L334.21,163.89 L334.38,165.46 L334.56,167.05 L334.74,168.67 L334.92,170.29 L335.09,171.92 L335.27,173.56 L335.44,175.18 L335.61,176.79 L335.77,178.38 L335.93,179.95 L336.09,181.51 L336.24,183.07 L336.39,184.62 L336.54,186.17 L336.69,187.73 L336.84,189.30 L337.00,190.88 L337.15,192.48 L337.31,194.10 L337.48,195.75 L337.64,197.43 L337.81,199.11 L337.99,200.81 L338.16,202.50 L338.34,204.18 L338.52,205.83 L338.69,207.46 L338.86,209.04 L339.03,210.57 L339.19,212.04 L339.35,213.44 L339.50,214.77 L339.64,216.02 L339.78,217.22 L339.92,218.38 L340.05,219.51 L340.19,220.64 L340.32,221.78 L340.46,222.94 L340.59,224.14 L340.73,225.39 L340.88,226.70 L341.03,228.05 L341.18,229.43 L341.34,230.83 L341.50,232.26 L341.66,233.69 L341.82,235.12 L341.99,236.55 L342.16,237.96 L342.33,239.35 L342.50,240.72 L342.68,242.08 L342.85,243.42 L343.03,244.75 L343.20,246.08 L343.37,247.41 L343.54,248.74 L343.71,250.09 L343.87,251.45 L344.03,252.83 L344.18,254.23 L344.33,255.66 L344.48,257.11 L344.63,258.58 L344.78,260.07 L344.93,261.59 L345.08,263.13 L345.24,264.70 L345.40,266.30 L345.56,267.92 L345.73,269.57 L345.91,271.24 L346.09,272.93 L346.27,274.63 L346.45,276.33 L346.64,278.03 L346.83,279.72 L347.01,281.39 L347.20,283.03 L347.38,284.64 L347.56,286.22 L347.74,287.75 L347.91,289.23 L348.07,290.66 L348.23,292.06 L348.39,293.41 L348.55,294.75 L348.70,296.06 L348.86,297.36 L349.02,298.67 L349.18,299.97 L349.35,301.29 L349.52,302.64 L349.70,304.00 L349.88,305.39 L350.07,306.81 L350.27,308.26 L350.48,309.74 L350.69,311.25 L350.91,312.80 L351.13,314.38 L351.37,316.00 L351.61,317.66 L351.86,319.36 L352.11,321.10 L352.38,322.85 L352.64,324.61 L352.92,326.38 L353.19,328.12 L353.47,329.84 L353.75,331.51 L354.03,333.14 L354.30,334.70 L354.58,336.18 L354.85,337.57 L355.12,338.86 L355.38,340.05 L355.64,341.16 L355.90,342.22 L356.17,343.25 L356.43,344.27 L356.71,345.30 L356.98,346.37 L357.27,347.49 L357.57,348.68 L357.88,349.94 L358.20,351.24 L358.53,352.58 L358.87,353.96 L359.22,355.34 L359.57,356.74 L359.93,358.13 L360.30,359.51 L360.67,360.86 L361.05,362.18 L361.44,363.46 L361.83,364.71 L362.23,365.94 L362.64,367.13 L363.06,368.29 L363.49,369.43 L363.92,370.54 L364.37,371.62 L364.82,372.68 L365.30,373.71 L365.80,374.71 L366.33,375.66 L366.90,376.56 L367.52,377.42 L368.20,378.21 L368.94,378.93 L369.74,379.58 L370.59,380.16 L371.48,380.65 L372.39,381.06 L373.29,381.37 L374.18,381.59 L375.03,381.70 L375.84,381.71 L376.61,381.62 L377.35,381.45 L378.09,381.19 L378.84,380.87 L379.62,380.49 L380.42,380.06 L381.26,379.57 L382.12,379.04 L383.00,378.46 L383.89,377.82 L384.80,377.14 L385.72,376.41 L386.65,375.63 L387.57,374.81 L388.50,373.95 L389.43,373.05 L390.36,372.13 L391.29,371.18 L392.22,370.20 L393.15,369.21 L394.07,368.21 L394.99,367.21 L395.91,366.20 L396.83,365.19 L397.74,364.18 L398.65,363.16 L399.55,362.15 L400.45,361.14 L401.34,360.13 L402.23,359.12 L403.11,358.11 L403.98,357.10 L404.85,356.10 L405.72,355.09 L406.59,354.08 L407.46,353.07 L408.34,352.05 L409.22,351.03 L410.13,350.00 L411.04,348.96 L411.98,347.91 L412.94,346.85 L413.92,345.77 L414.93,344.68 L415.95,343.60 L416.99,342.51 L418.03,341.44 L419.09,340.37 L420.14,339.33 L421.19,338.30 L422.24,337.31 L423.28,336.35 L424.31,335.44 L425.33,334.56 L426.33,333.71 L427.34,332.90 L428.34,332.10 L429.35,331.32 L430.37,330.55 L431.40,329.78 L432.46,329.00 L433.54,328.22 L434.64,327.42 L435.78,326.60 L436.93,325.76 L438.11,324.92 L439.30,324.07 L440.50,323.21 L441.71,322.35 L442.92,321.49 L444.13,320.63 L445.34,319.77 L446.55,318.93 L447.74,318.09 L448.93,317.25 L450.11,316.43 L451.29,315.62 L452.47,314.81 L453.65,314.02 L454.84,313.23 L456.03,312.45 L457.23,311.68 L458.44,310.92 L459.67,310.17 L460.91,309.42 L462.16,308.69 L463.43,307.96 L464.71,307.24 L466.01,306.52 L467.31,305.82 L468.63,305.12 L469.96,304.43 L471.30,303.75 L472.66,303.07 L474.02,302.40 L475.40,301.74 L476.78,301.08 L478.17,300.44 L479.56,299.81 L480.95,299.19 L482.34,298.58 L483.73,297.98 L485.12,297.40 L486.50,296.84 L487.86,296.29 L489.22,295.76 L490.57,295.25 L491.91,294.75 L493.25,294.27 L494.58,293.79 L495.91,293.32 L497.25,292.86 L498.58,292.40 L499.93,291.94 L501.28,291.48 L502.64,291.01 L504.02,290.54 L505.40,290.07 L506.80,289.59 L508.20,289.11 L509.62,288.63 L511.05,288.14 L512.50,287.66 L513.95,287.17 L515.41,286.68 L516.89,286.20 L518.37,285.71 L519.87,285.23 L521.38,284.75 L522.89,284.28 L524.41,283.81 L525.94,283.34 L527.47,282.87 L529.01,282.41 L530.54,281.96 L532.08,281.51 L533.63,281.06 L535.17,280.62 L536.71,280.19 L538.24,279.76 L539.78,279.35 L541.31,278.93 L542.85,278.53 L544.38,278.13 L545.91,277.73 L547.45,277.34 L548.98,276.96 L550.51,276.59 L552.05,276.22 L553.58,275.86 L555.12,275.50 L556.66,275.15 L558.20,274.80 L559.74,274.47 L561.27,274.13 L562.81,273.80 L564.35,273.48 L565.89,273.16 L567.43,272.84 L568.97,272.53 L570.50,272.22 L572.03,271.91 L573.57,271.61 L575.10,271.32 L576.63,271.02 L578.17,270.74 L579.71,270.45 L581.25,270.17 L582.80,269.90 L584.35,269.64 L585.92,269.38 L587.49,269.12 L589.07,268.87 L590.66,268.63 L592.25,268.40 L593.85,268.17 L595.44,267.95 L597.03,267.74 L598.61,267.53 L600.17,267.33 L601.72,267.13 L603.23,266.94 L604.73,266.75 L606.18,266.56 L607.61,266.39 L609.00,266.21 L610.35,266.04 L611.68,265.87 L612.99,265.70 L614.27,265.54 L615.54,265.38 L616.80,265.22 L618.05,265.06 L619.30,264.90" fill="none" stroke="#0000ff" stroke-width="5.4" stroke-dasharray="13.45 2.79" stroke-dashoffset="15.69"/>
<text x="9.6" y="23" font-family="'Liberation Serif', serif" font-size="25.5px" textLength="93.2" lengthAdjust="spacingAndGlyphs">ReT(k;E)</text>
<text x="530.6" y="60.6" font-family="'Liberation Serif', serif" font-size="26px" textLength="81.4" lengthAdjust="spacingAndGlyphs">mE=0.8</text>
<path d="M635.6,233.6 L638.4,231.9" stroke="#000" stroke-width="1" fill="none"/>
<path d="M638.4,231.9 L643.3,247.3" stroke="#000" stroke-width="2" fill="none"/>
<path d="M643.3,247.8 L650.3,202.1 L731,202.3" stroke="#000" stroke-width="1.1" fill="none"/>
<text x="653.6" y="229.9" font-family="'Liberation Serif', serif" font-size="16px" textLength="23.6" lengthAdjust="spacingAndGlyphs">mE</text>
<line x1="683.2" y1="225.5" x2="691.6" y2="225.5" stroke="#000" stroke-width="0.85"/>
<text x="701.9" y="221.7" font-family="'Liberation Serif', serif" font-size="12px" text-anchor="middle">3</text>
<line x1="698.8" y1="224.1" x2="706" y2="224.1" stroke="#000" stroke-width="0.9"/>
<text x="702.0" y="239.7" font-family="'Liberation Serif', serif" font-size="12px" text-anchor="middle">4</text>
<text x="710.8" y="229.9" font-family="'Liberation Serif', serif" font-size="16.5px" font-style="italic">k</text>
<text x="717.6" y="225.8" font-family="'Liberation Serif', serif" font-size="10.5px" textLength="5.4" lengthAdjust="spacingAndGlyphs">2</text>
<line x1="125.9" y1="421.3" x2="203.3" y2="421.3" stroke="#ff8080" stroke-width="4.3" stroke-dasharray="12.2 3.95"/>
<line x1="283.3" y1="421.3" x2="361.3" y2="421.3" stroke="#000000" stroke-width="4.3" stroke-dasharray="12.2 3.95"/>
<line x1="452.9" y1="421.3" x2="530.6" y2="421.3" stroke="#00ff00" stroke-width="4.3" stroke-dasharray="12.2 3.95"/>
<line x1="125.9" y1="467.9" x2="203.3" y2="467.9" stroke="#ff00ff" stroke-width="4.3" stroke-dasharray="12.2 3.95"/>
<line x1="295.3" y1="467.9" x2="374.8" y2="467.9" stroke="#0000ff" stroke-width="5.4" stroke-dasharray="13.8 2.6"/>
<text x="219.0" y="430.0" font-family="'Liberation Serif', serif" font-size="26px" fill="#ff8080" textLength="43.0" lengthAdjust="spacingAndGlyphs">L=5</text>
<text x="377.7" y="430.1" font-family="'Liberation Serif', serif" font-size="26px" fill="#000" textLength="55.7" lengthAdjust="spacingAndGlyphs">L=10</text>
<text x="548.1" y="430.1" font-family="'Liberation Serif', serif" font-size="26px" fill="#00ff00" textLength="54.8" lengthAdjust="spacingAndGlyphs">L=20</text>
<text x="218.8" y="475.6" font-family="'Liberation Serif', serif" font-size="26px" fill="#ff00ff" textLength="55.8" lengthAdjust="spacingAndGlyphs">L=40</text>
<text x="389.3" y="475.7" font-family="'Liberation Serif', serif" font-size="26px" font-style="italic" fill="#0000ff">T</text>
<text x="404.9" y="481.4" font-family="'Liberation Serif', serif" font-size="23px" fill="#0000ff" textLength="16.6" lengthAdjust="spacingAndGlyphs">∞</text>
</svg>
</body></html>
